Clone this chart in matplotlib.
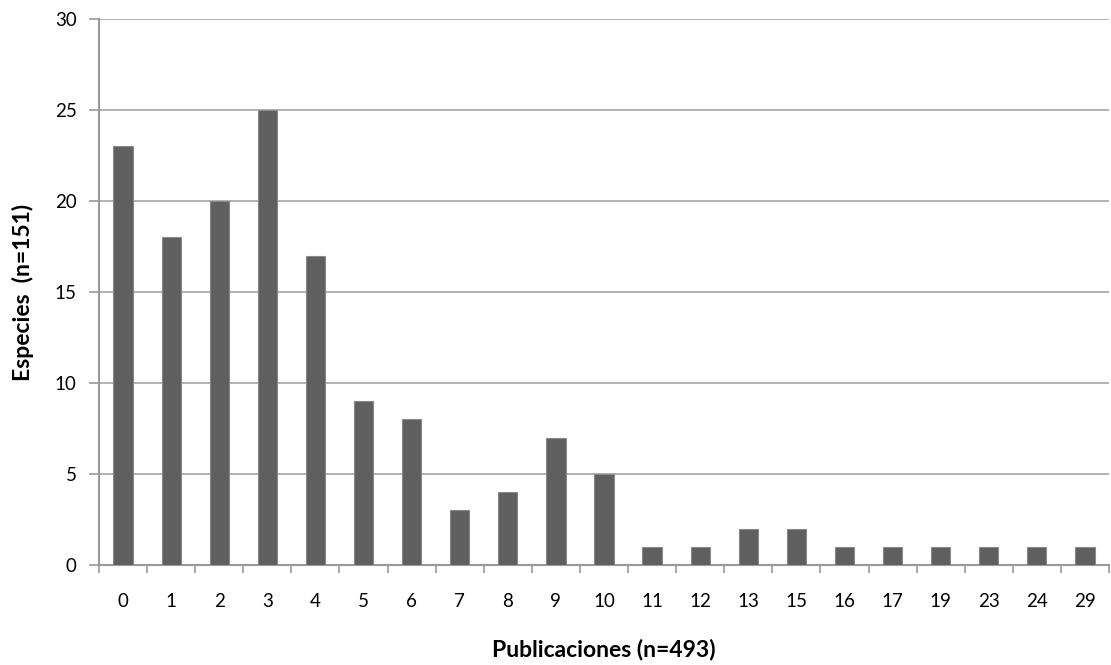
import numpy as np
import matplotlib.pyplot as plt

plt.rcParams['font.family'] = ['Lato', 'DejaVu Sans']

categorias = ['0', '1', '2', '3', '4', '5', '6', '7', '8', '9', '10', '11', '12',
              '13', '15', '16', '17', '19', '23', '24', '29']
especies = [23, 18, 20, 25, 17, 9, 8, 3, 4, 7, 5, 1, 1, 2, 2, 1, 1, 1, 1, 1, 1]

fig = plt.figure(figsize=(11.11, 6.65), dpi=100)
ax = fig.add_axes([99/1111, 100/665, 1010/1111, 546/665])

x = np.arange(len(categorias))
ax.bar(x, especies, width=0.4, color='#5f5f5f', edgecolor='#8a8a8a', linewidth=0.8, zorder=3)

ax.set_xlim(-0.5, len(categorias) - 0.5)
ax.set_ylim(0, 30)
ax.set_yticks(range(0, 31, 5))
ax.yaxis.grid(True, color='#a6a6a6', linewidth=1.2, zorder=0)
ax.set_axisbelow(True)

ax.set_xticks(np.arange(len(categorias) + 1) - 0.5, minor=False)
ax.set_xticklabels([])
ax.set_xticks(x, minor=True)
ax.set_xticklabels(categorias, minor=True)
ax.tick_params(axis='x', which='major', length=6, color='#999999', width=1.2, direction='out')
ax.tick_params(axis='x', which='minor', length=0, pad=20, labelsize=13.5)
ax.tick_params(axis='y', length=7, color='#999999', width=1.2, labelsize=13.5, pad=9)

for s in ['top', 'right']:
    ax.spines[s].set_visible(False)
for s in ['left', 'bottom']:
    ax.spines[s].set_color('#999999')
    ax.spines[s].set_linewidth(1.5)

ax.set_xlabel('Publicaciones (n=493)', fontsize=16.5, fontweight='bold')
ax.set_ylabel('Especies  (n=151)', fontsize=16.5, fontweight='bold')
ax.xaxis.set_label_coords(0.5, -0.135)
ax.yaxis.set_label_coords(-0.064, 0.5)

fig.savefig('out.png', dpi=100)
